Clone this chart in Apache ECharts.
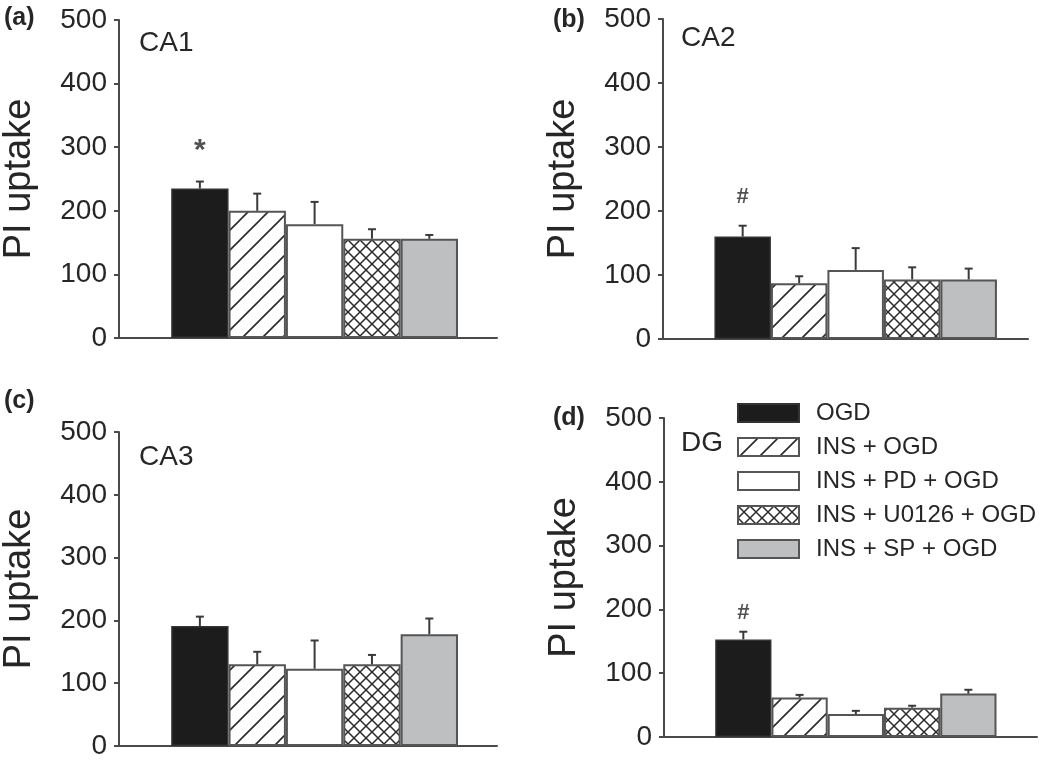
<!DOCTYPE html>
<html>
<head>
<meta charset="utf-8">
<script src="https://cdn.jsdelivr.net/npm/echarts@6/dist/echarts.min.js"></script>
<style>
  html, body { margin: 0; padding: 0; background: #fff; }
  #chart { width: 1050px; height: 760px; }
</style>
</head>
<body>
<div id="chart"></div>
<script>
// groups (legend order)
const groups = ['OGD', 'INS + OGD', 'INS + PD + OGD', 'INS + U0126 + OGD', 'INS + SP + OGD'];
const panelLetters = ['(a)', '(b)', '(c)', '(d)'];
const regions = ['CA1', 'CA2', 'CA3', 'DG'];
const yTicks = [0, 100, 200, 300, 400, 500];

// mean PI uptake per region, in group order
const meanCA1 = [235, 200, 179, 156, 156];
const meanCA2 = [160, 87, 108, 93, 93];
const meanCA3 = [191, 130, 123, 130, 178];
const meanDG = [153, 62, 36, 46, 68];

// top of the error bar (mean + SEM)
const errCA1 = [246, 227, 214, 171, 162];
const errCA2 = [177, 98, 142, 112, 110];
const errCA3 = [206, 150, 168, 145, 203];
const errDG = [165, 66, 41, 49, 74];

// significance marks above the OGD bar
const sigText = ['*', '#', '', '#'];
const sigValue = [294, 222, null, 194];

const means = [meanCA1, meanCA2, meanCA3, meanDG];
const errs = [errCA1, errCA2, errCA3, errDG];

// layout of the four panels (pixels)
const grids = [
  { left: 119, top: 20, width: 378, height: 318, xMax: 6.18 },
  { left: 663, top: 19, width: 365, height: 320, xMax: 6.05 },
  { left: 119, top: 432, width: 378, height: 319, xMax: 6.18 },
  { left: 664, top: 418, width: 373, height: 319, xMax: 6.22 }
];

const FONT = 'Liberation Sans, Arial, sans-serif';
const INK = '#262626';
const AXIS = '#4a4a4a';

function hatchPattern() {
  const s = 20;
  const c = document.createElement('canvas');
  c.width = s; c.height = s;
  const g = c.getContext('2d');
  g.fillStyle = '#fff';
  g.fillRect(0, 0, s, s);
  g.strokeStyle = '#2a2a2a';
  g.lineWidth = 1.6;
  g.beginPath();
  g.moveTo(-2, s + 2); g.lineTo(s + 2, -2);
  g.moveTo(-2, 2); g.lineTo(2, -2);
  g.moveTo(s - 2, s + 2); g.lineTo(s + 2, s - 2);
  g.stroke();
  return c;
}

function crossPattern() {
  const s = 12;
  const c = document.createElement('canvas');
  c.width = s; c.height = s;
  const g = c.getContext('2d');
  g.fillStyle = '#fff';
  g.fillRect(0, 0, s, s);
  g.strokeStyle = '#2a2a2a';
  g.lineWidth = 1.5;
  g.beginPath();
  g.moveTo(-1, -1); g.lineTo(s + 1, s + 1);
  g.moveTo(-1, s + 1); g.lineTo(s + 1, -1);
  g.stroke();
  return c;
}

const barStyles = [
  { color: '#1c1c1c', borderColor: '#333', borderWidth: 1.5 },
  { color: { image: hatchPattern(), repeat: 'repeat' }, borderColor: '#555', borderWidth: 2 },
  { color: '#fff', borderColor: '#555', borderWidth: 2 },
  { color: { image: crossPattern(), repeat: 'repeat' }, borderColor: '#555', borderWidth: 2 },
  { color: '#bebfc0', borderColor: '#555', borderWidth: 2 }
];

const chart = echarts.init(document.getElementById('chart'));

const gridOpt = [], xAxes = [], yAxes = [], series = [], titles = [];

grids.forEach((gd, p) => {
  gridOpt.push({ left: gd.left, top: gd.top, width: gd.width, height: gd.height, containLabel: false });
  xAxes.push({
    type: 'value', gridIndex: p, min: -0.41, max: gd.xMax,
    axisLine: { show: true, onZero: false, lineStyle: { color: AXIS, width: 2 } },
    axisTick: { show: false }, axisLabel: { show: false }, splitLine: { show: false }
  });
  yAxes.push({
    type: 'value', gridIndex: p, min: yTicks[0], max: yTicks[yTicks.length - 1], interval: 100,
    name: 'PI uptake', nameLocation: 'middle', nameGap: 80,
    nameTextStyle: { fontFamily: FONT, fontSize: 38, color: INK },
    axisLine: { show: true, onZero: false, lineStyle: { color: AXIS, width: 2 } },
    axisTick: { show: true, inside: false, length: 5, lineStyle: { color: AXIS, width: 2 } },
    axisLabel: { fontFamily: FONT, fontSize: 28, color: INK, margin: 12 },
    splitLine: { show: false }
  });

  groups.forEach((name, k) => {
    series.push({
      type: 'bar', name: name, xAxisIndex: p, yAxisIndex: p,
      data: [[k + 1, means[p][k]]],
      barWidth: '100%', barGap: '-100%',
      itemStyle: barStyles[k],
      silent: true, z: 2
    });
  });

  series.push({
    type: 'custom', xAxisIndex: p, yAxisIndex: p, z: 3, silent: true,
    data: means[p].map((m, k) => [k + 1, m, errs[p][k]]),
    renderItem: function (params, api) {
      const x = api.value(0);
      const a = api.coord([x, api.value(1)]);
      const b = api.coord([x, api.value(2)]);
      const st = { stroke: '#3a3a3a', lineWidth: 2 };
      return {
        type: 'group',
        children: [
          { type: 'line', shape: { x1: a[0], y1: a[1], x2: b[0], y2: b[1] }, style: st },
          { type: 'line', shape: { x1: b[0] - 4, y1: b[1], x2: b[0] + 4, y2: b[1] }, style: st }
        ]
      };
    }
  });

  if (sigText[p]) {
    series.push({
      type: 'scatter', xAxisIndex: p, yAxisIndex: p, silent: true,
      symbolSize: 0,
      data: [[1, sigValue[p]]],
      label: {
        show: true, position: 'inside', formatter: sigText[p],
        fontFamily: FONT, fontSize: p === 0 ? 30 : 22, fontWeight: 'bold', color: INK
      }
    });
  }
});

// panel letters and region names
const letterPos = [[4, 6], [553, 8], [4, 389], [553, 406]];
const regionPos = [[139, 29], [681, 24], [139, 443], [681, 429]];
letterPos.forEach((pos, p) => {
  titles.push({
    text: panelLetters[p], left: pos[0], top: pos[1], padding: 0,
    textStyle: { fontFamily: FONT, fontSize: 25, fontWeight: 'bold', color: INK }
  });
  titles.push({
    text: regions[p], left: regionPos[p][0], top: regionPos[p][1], padding: 0,
    textStyle: { fontFamily: FONT, fontSize: 28, fontWeight: 'normal', color: INK }
  });
});

chart.setOption({
  backgroundColor: '#fff',
  animation: false,
  title: titles,
  legend: {
    data: groups, orient: 'vertical', left: 737, top: 401, padding: 0,
    icon: 'rect', itemWidth: 61, itemHeight: 18, itemGap: 10,
    selectedMode: false,
    textStyle: { fontFamily: FONT, fontSize: 24, color: INK, padding: [0, 0, 0, 12] }
  },
  grid: gridOpt,
  xAxis: xAxes,
  yAxis: yAxes,
  series: series
});
</script>
</body>
</html>
